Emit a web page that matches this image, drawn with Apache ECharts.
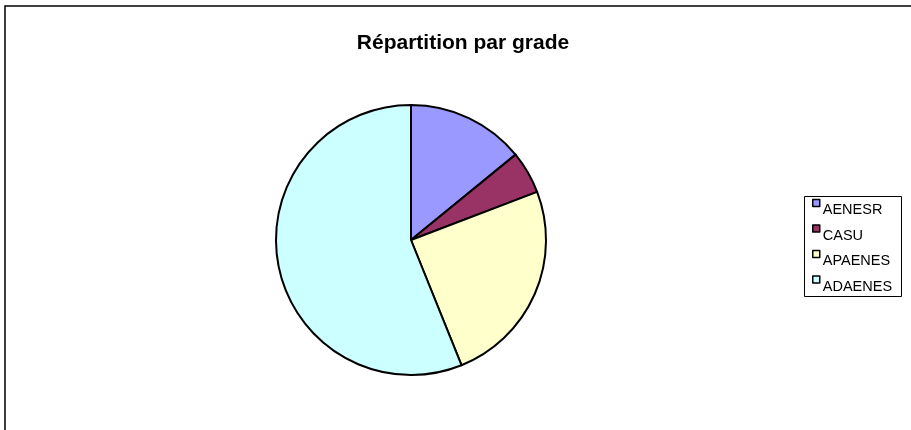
<!DOCTYPE html>
<html>
<head>
<meta charset="utf-8">
<script src="https://cdn.jsdelivr.net/npm/echarts@6/dist/echarts.min.js"></script>
<style>
  html, body { margin: 0; padding: 0; background: #fff; }
  #chart { width: 911px; height: 430px; }
</style>
</head>
<body>
<div id="chart"></div>
<script>
// données (en %)
const grades = ['AENESR', 'CASU', 'APAENES', 'ADAENES']
const values = [14.1, 5.1, 24.7, 56.1]
const colors = ['#9999FF', '#993366', '#FFFFCC', '#CCFFFF']

const chart = echarts.init(document.getElementById('chart'))

const option = {
  backgroundColor: '#fff',
  animation: false,
  title: {
    text: 'Répartition par grade',
    left: 458,
    textAlign: 'center',
    top: 28,
    textStyle: {
      fontFamily: 'Liberation Sans, Arial, sans-serif',
      fontSize: 21,
      fontWeight: 'bold',
      color: '#000'
    }
  },
  graphic: [
    {
      // cadre de la zone du graphique
      type: 'rect',
      shape: { x: 5, y: 6, width: 1000, height: 1000 },
      style: { fill: 'none', stroke: '#000', lineWidth: 1.5 },
      silent: true
    },
    {
      // cadre de la légende
      type: 'rect',
      shape: { x: 804.5, y: 196.5, width: 97, height: 100 },
      style: { fill: 'none', stroke: '#000', lineWidth: 1 },
      silent: true
    }
  ],
  legend: {
    orient: 'vertical',
    left: 812,
    top: 188.5,
    padding: 0,
    itemWidth: 7,
    itemHeight: 7,
    itemGap: -3.5,
    icon: 'rect',
    itemStyle: { borderColor: '#000', borderWidth: 1.5 },
    formatter: name => '{t|' + name + '}',
    textStyle: {
      rich: {
        t: {
          fontFamily: 'Liberation Sans, Arial, sans-serif',
          fontSize: 14.5,
          lineHeight: 12,
          color: '#000',
          padding: [14, 0, 0, -2]
        }
      }
    },
    data: grades
  },
  series: [
    {
      name: 'Grade',
      type: 'pie',
      center: [411, 240],
      radius: 135,
      startAngle: 90,
      clockwise: true,
      label: { show: false },
      labelLine: { show: false },
      emphasis: { disabled: true },
      itemStyle: { borderColor: '#000', borderWidth: 2 },
      data: grades.map((g, i) => ({
        name: g,
        value: values[i],
        itemStyle: { color: colors[i] }
      }))
    }
  ]
}

chart.setOption(option)
</script>
</body>
</html>
